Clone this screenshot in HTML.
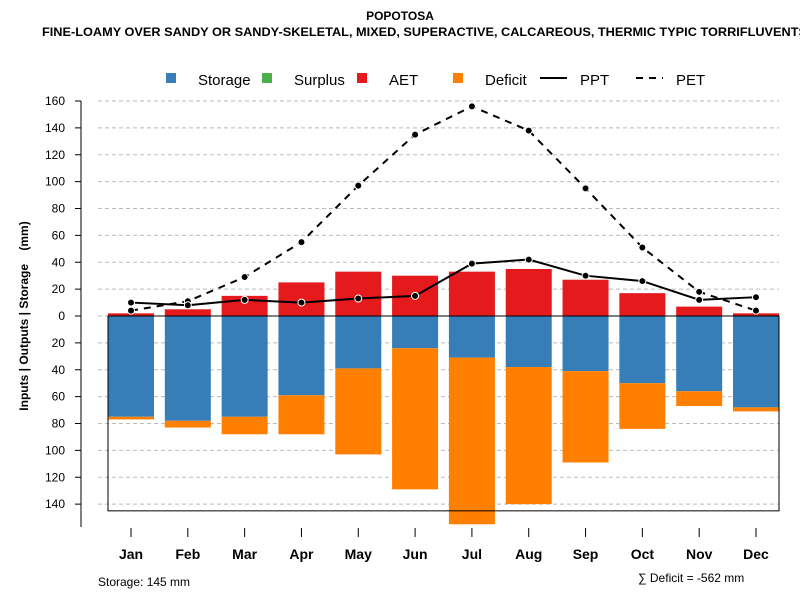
<!DOCTYPE html>
<html><head><meta charset="utf-8"><style>
body{margin:0;background:#fff;}
svg text{font-family:"Liberation Sans",Arial,sans-serif;}
</style></head><body>
<svg id="chart" width="800" height="600" xmlns="http://www.w3.org/2000/svg">
<rect width="800" height="600" fill="#fff"/>
<text x="400" y="20" text-anchor="middle" font-size="12" font-weight="bold">POPOTOSA</text>
<text x="42" y="36" font-size="12" font-weight="bold" textLength="765" lengthAdjust="spacingAndGlyphs">FINE-LOAMY OVER SANDY OR SANDY-SKELETAL, MIXED, SUPERACTIVE, CALCAREOUS, THERMIC TYPIC TORRIFLUVENTS</text>
<g id="legend">
<g><rect x="166" y="73" width="10" height="10" fill="#377eb8"/><text x="198" y="85" font-size="15">Storage</text></g>
<g><rect x="262" y="73" width="10" height="10" fill="#4daf4a"/><text x="294" y="85" font-size="15">Surplus</text></g>
<g><rect x="357" y="73" width="10" height="10" fill="#e41a1c"/><text x="389" y="85" font-size="15">AET</text></g>
<g><rect x="453" y="73" width="10" height="10" fill="#ff7f00"/><text x="485" y="85" font-size="15">Deficit</text></g>
<g><line x1="540" y1="78" x2="567" y2="78" stroke="#000" stroke-width="2"/><text x="580" y="85" font-size="15">PPT</text></g>
<g><line x1="636" y1="78" x2="663" y2="78" stroke="#000" stroke-width="2" stroke-dasharray="7,6"/><text x="676" y="85" font-size="15">PET</text></g>
</g>
<text transform="translate(28,316) rotate(-90)" text-anchor="middle" font-size="12" font-weight="bold" xml:space="preserve">Inputs | Outputs | Storage    (mm)</text>
<text x="98" y="586" font-size="12">Storage: 145 mm</text>
<text x="638" y="582" font-size="12">∑ Deficit = -562 mm</text>
<g id="grid"></g><g id="bars"></g><g id="lines"></g><g id="axes"></g>
</svg>
<script>
const months=["Jan","Feb","Mar","Apr","May","Jun","Jul","Aug","Sep","Oct","Nov","Dec"];
const aet=[2,5,15,25,33,30,33,35,27,17,7,2];
const storage=[75,78,75,59,39,24,31,38,41,50,56,68];
const deficit=[2,5,13,29,64,105,124,102,68,34,11,3];
const ppt=[10,8,12,10,13,15,39,42,30,26,12,14];
const pet=[4,11,29,55,97,135,156,138,95,51,18,4];
const yTicks=[160,140,120,100,80,60,40,20,0,20,40,60,80,100,120,140];
const yTickVals=[160,140,120,100,80,60,40,20,0,-20,-40,-60,-80,-100,-120,-140];
const storageCap=145;
const NS="http://www.w3.org/2000/svg";
const y=v=>316-v*1.34375;
const x=i=>131+i*(625/11);
const bw=46;
function mk(tag,attrs,parent){const e=document.createElementNS(NS,tag);for(const k in attrs)e.setAttribute(k,attrs[k]);document.getElementById(parent).appendChild(e);return e;}
yTickVals.forEach((v,i)=>{
 const g=mk('line',{x1:98,x2:779,y1:y(v),y2:y(v),stroke:'#bbb','stroke-dasharray':'4,3'},'grid');
 
 
 const t=mk('line',{x1:75,x2:81,y1:y(v),y2:y(v),stroke:'#000'},'axes');
 
 
 const l=mk('text',{x:65,y:y(v)+4,'text-anchor':'end','font-size':12},'axes');
 l.textContent=yTicks[i];
 
 
});
const ax=mk('line',{x1:81,x2:81,y1:y(160),y2:527,stroke:'#000'},'axes');


months.forEach((m,i)=>{
 const cx=x(i);
 const r1=mk('rect',{x:cx-bw/2,y:y(aet[i]),width:bw,height:y(0)-y(aet[i]),fill:'#e41a1c'},'bars');
 
 
 const r2=mk('rect',{x:cx-bw/2,y:y(0),width:bw,height:y(-storage[i])-y(0),fill:'#377eb8'},'bars');
 
 
 const r3=mk('rect',{x:cx-bw/2,y:y(-storage[i]),width:bw,height:y(-storage[i]-deficit[i])-y(-storage[i]),fill:'#ff7f00'},'bars');
 
 
 const t=mk('line',{x1:cx,x2:cx,y1:528,y2:537,stroke:'#000'},'axes');
 
 
 const l=mk('text',{x:cx,y:559,'text-anchor':'middle','font-size':14,'font-weight':'bold'},'axes');
 l.textContent=m;
 
 
});
const box=mk('rect',{x:108,y:y(0),width:671,height:y(-storageCap)-y(0),fill:'none',stroke:'#000'},'bars');


const zl=mk('line',{x1:108,x2:779,y1:y(0),y2:y(0),stroke:'#000'},'bars');


function series(arr,name,dash){
 const p=mk('polyline',{points:arr.map((v,i)=>x(i)+','+y(v)).join(' '),fill:'none',stroke:'#000','stroke-width':2,'stroke-dasharray':dash},'lines');
 
 
 arr.forEach((v,i)=>{
  const c=mk('circle',{cx:x(i),cy:y(v),r:3.5,fill:'#000',stroke:'#fff','stroke-width':1},'lines');
  
  
 });
}
series(pet,'pet','7,6');
series(ppt,'ppt','none');
</script>
</body></html>
